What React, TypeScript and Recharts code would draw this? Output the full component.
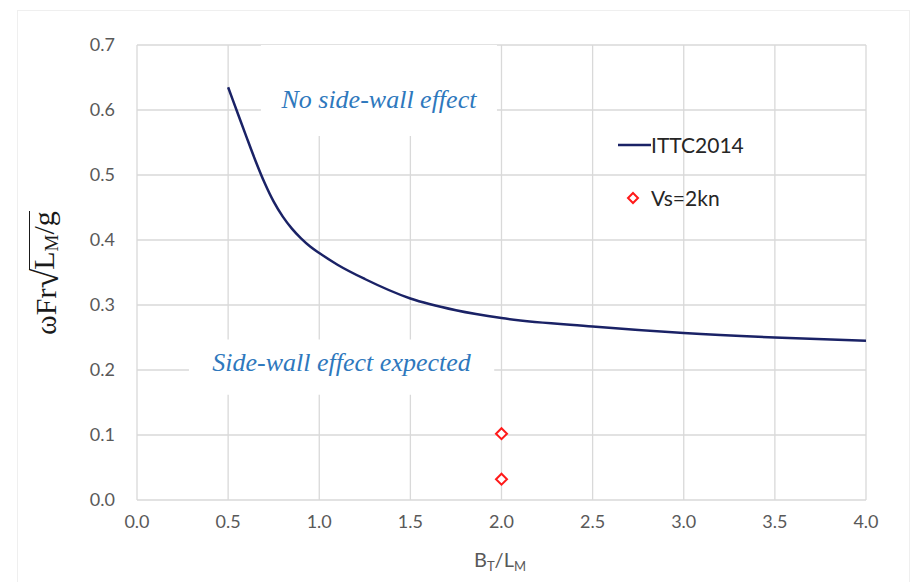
import React from 'react';
import {
  ComposedChart,
  Line,
  Scatter,
  XAxis,
  YAxis,
  CartesianGrid,
  ReferenceArea,
} from 'recharts';

// ITTC 2014 limit curve
const ratioBL = [0.5, 0.55, 0.6, 0.65, 0.7, 0.75, 0.8, 0.85, 0.9, 0.95, 1.0, 1.1, 1.25, 1.5, 1.75, 2.0, 2.5, 3.0, 3.5, 4.0];
const ittc2014 = [0.635, 0.597, 0.559, 0.522, 0.488, 0.459, 0.436, 0.4175, 0.4025, 0.39, 0.38, 0.362, 0.34, 0.31, 0.292, 0.28, 0.267, 0.257, 0.25, 0.245];

// test points at Vs = 2 kn
const testRatio = [2.0, 2.0];
const testValue = [0.102, 0.032];

const xTicks = [0, 0.5, 1, 1.5, 2, 2.5, 3, 3.5, 4];
const yTicks = [0, 0.1, 0.2, 0.3, 0.4, 0.5, 0.6, 0.7];

const curveData = ratioBL.map((x, i) => ({ x, y: ittc2014[i] }));
const testData = testRatio.map((x, i) => ({ x, y: testValue[i] }));

const NAVY = '#1a2266';
const RED = '#ff1a1a';
const NOTE_BLUE = '#2e78bd';
const TICK = { fill: '#595959', fontSize: 18, fontFamily: 'Lato' };

const Diamond = (props: any) => {
  const { cx, cy } = props;
  if (cx == null || cy == null) return null;
  const r = 5.5;
  return (
    <polygon
      points={`${cx},${cy - r} ${cx + r},${cy} ${cx},${cy + r} ${cx - r},${cy}`}
      fill="#fff"
      stroke={RED}
      strokeWidth={2}
    />
  );
};

const Note = (text: string, dy: number) => (props: any) => {
  const vb = props.viewBox;
  if (!vb) return null;
  return (
    <text
      x={vb.x + vb.width / 2}
      y={vb.y + vb.height / 2 + dy}
      textAnchor="middle"
      fontFamily="Liberation Serif"
      fontStyle="italic"
      fontSize={26}
      fill={NOTE_BLUE}
    >
      {text}
    </text>
  );
};

const XTitle = () => (
  <text x={500} y={567} textAnchor="middle" fontFamily="Lato" fontSize={20} fill="#595959">
    B<tspan fontSize={13} dy={4}>T</tspan>
    <tspan dy={-4}>/L</tspan>
    <tspan fontSize={13} dy={4}>M</tspan>
  </text>
);

const LegendBox = () => (
  <div
    style={{
      position: 'absolute',
      left: 618,
      top: 130,
      fontFamily: 'Lato',
      fontSize: 21,
      color: '#262626',
      lineHeight: '22px',
    }}
  >
    <div style={{ display: 'flex', alignItems: 'center', height: 30 }}>
      <svg width={33} height={10}>
        <line x1={0} y1={5} x2={33} y2={5} stroke={NAVY} strokeWidth={2.5} />
      </svg>
      <span>ITTC2014</span>
    </div>
    <div style={{ display: 'flex', alignItems: 'center', height: 30, marginTop: 23 }}>
      <svg width={33} height={16}>
        <polygon points="15,3 20,8 15,13 10,8" fill="#fff" stroke={RED} strokeWidth={2} />
      </svg>
      <span>Vs=2kn</span>
    </div>
  </div>
);

const YTitle = () => (
  <div
    style={{
      position: 'absolute',
      left: 46 - 110,
      top: 273 - 20,
      width: 220,
      height: 40,
      transform: 'rotate(-90deg)',
      display: 'flex',
      alignItems: 'center',
      justifyContent: 'center',
      fontFamily: 'Liberation Serif',
      fontSize: 30,
      color: '#1a1a1a',
      whiteSpace: 'nowrap',
      lineHeight: '32px',
    }}
  >
    <span>ωFr</span>
    <span style={{ fontSize: 36, marginRight: -1 }}>√</span>
    <span style={{ borderTop: '1.7px solid #1a1a1a', lineHeight: '28px', marginTop: 2 }}>
      L<sub style={{ fontSize: 19, verticalAlign: -4 }}>M</sub>/g
    </span>
  </div>
);

export default function App() {
  return (
    <div style={{ position: 'absolute', left: 0, top: 0, width: 911, height: 582, background: '#fff', overflow: 'hidden' }}>
      <div
        style={{
          position: 'absolute',
          left: 17,
          top: 10,
          width: 893,
          height: 580,
          border: '1px solid #efefef',
          boxSizing: 'border-box',
        }}
      />
      <ComposedChart
        width={911}
        height={582}
        margin={{ top: 45, right: 45, bottom: 22, left: 17 }}
        style={{ position: 'absolute', left: 0, top: 0 }}
      >
        <CartesianGrid stroke="#d9d9d9" strokeWidth={1.3} />
        <XAxis
          type="number"
          dataKey="x"
          domain={[0, 4]}
          ticks={xTicks}
          tickFormatter={(v: number) => v.toFixed(1)}
          axisLine={false}
          tickLine={false}
          tickSize={0}
          tickMargin={15}
          height={60}
          tick={TICK}
          label={<XTitle />}
        />
        <YAxis
          type="number"
          dataKey="y"
          domain={[0, 0.7]}
          ticks={yTicks}
          tickFormatter={(v: number) => v.toFixed(1)}
          axisLine={false}
          tickLine={false}
          tickSize={0}
          tickMargin={22}
          width={120}
          tick={TICK}
        />
        <ReferenceArea
          x1={0.68}
          x2={1.975}
          y1={0.56}
          y2={0.7}
          fill="#fff"
          fillOpacity={1}
          stroke="none"
          label={Note('No side-wall effect', 17)}
        />
        <ReferenceArea
          x1={0.285}
          x2={1.96}
          y1={0.162}
          y2={0.247}
          fill="#fff"
          fillOpacity={1}
          stroke="none"
          label={Note('Side-wall effect expected', 4)}
        />
        <Line
          data={curveData}
          dataKey="y"
          type="monotone"
          stroke={NAVY}
          strokeWidth={2.5}
          dot={false}
          isAnimationActive={false}
          name="ITTC2014"
        />
        <Scatter data={testData} dataKey="y" shape={<Diamond />} isAnimationActive={false} name="Vs=2kn" />
      </ComposedChart>
      <YTitle />
      <LegendBox />
    </div>
  );
}
